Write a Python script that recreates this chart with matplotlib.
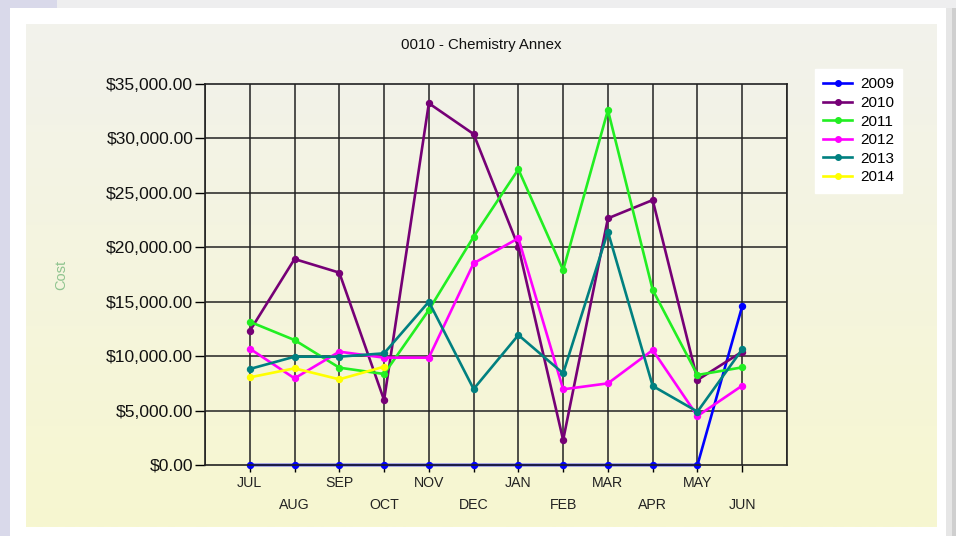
import numpy as np
import matplotlib.pyplot as plt
from matplotlib.patches import Rectangle

plt.rcParams['font.family'] = ['Liberation Sans', 'DejaVu Sans']

months = ["JUL", "AUG", "SEP", "OCT", "NOV", "DEC", "JAN", "FEB", "MAR", "APR", "MAY", "JUN"]
years = ["2009", "2010", "2011", "2012", "2013", "2014"]
colors = ["#0000ff", "#760076", "#22ee22", "#ff00ff", "#008080", "#ffff00"]

cost_2009 = [0, 0, 0, 0, 0, 0, 0, 0, 0, 0, 0, 14600]
cost_2010 = [12310, 18920, 17670, 5970, 33230, 30400, 20050, 2300, 22660, 24340, 7810, 10410]
cost_2011 = [13160, 11480, 8940, 8360, 14240, 20970, 27160, 17900, 32600, 16080, 8270, 8970]
cost_2012 = [10690, 7960, 10410, 9860, 9860, 18530, 20830, 6950, 7500, 10560, 4500, 7290]
cost_2013 = [8820, 9950, 9950, 10260, 15000, 6980, 11940, 8420, 21430, 7260, 4900, 10630]
cost_2014 = [8050, 8880, 7870, 9030]

series = [cost_2009, cost_2010, cost_2011, cost_2012, cost_2013, cost_2014]

W, H = 956, 536
fig = plt.figure(figsize=(W / 100, H / 100), dpi=100)
fig.patch.set_facecolor("white")


def fig_rect(x0, y0, x1, y1, color, z=-10):
    # pixel coords, origin at top-left
    r = Rectangle((x0 / W, 1 - y1 / H), (x1 - x0) / W, (y1 - y0) / H,
                  transform=fig.transFigure, facecolor=color, edgecolor="none", zorder=z)
    fig.add_artist(r)


# window chrome around the chart
fig_rect(0, 0, W, 8, "#eeeeef")
fig_rect(0, 0, 57, 8, "#d9d9ea")
fig_rect(0, 0, 10, H, "#d9d9ea")
fig_rect(946, 8, W, H, "#e6e6e6")
fig_rect(952, 8, W, H, "#cfcfcf")

# gradient chart area
bg = fig.add_axes([26 / W, 1 - 527 / H, 911 / W, 503 / H], zorder=-5)
top = np.array([242, 242, 236]) / 255
bot = np.array([247, 247, 208]) / 255
t = np.linspace(0, 1, 256)[:, None]
grad = (top * (1 - t) + bot * t)[:, None, :]
bg.imshow(grad, aspect="auto", extent=[0, 1, 0, 1])
bg.axis("off")

ax = fig.add_axes([205 / W, 1 - 465 / H, 582 / W, 381 / H])
ax.patch.set_alpha(0)

x = np.arange(len(months))
for yr, vals, c in zip(years, series, colors):
    ax.plot(x[:len(vals)], vals, color=c, lw=1.9, marker="o", ms=4.3,
            label=yr, clip_on=False, zorder=3)

ax.set_xlim(-1, 12)
ax.set_ylim(0, 35000)
ax.set_yticks(np.arange(0, 35001, 5000))
ax.set_yticklabels([f"${v:,.2f}" for v in np.arange(0, 35001, 5000)], fontsize=12.6)

ax.set_xticks(x[::2], months[::2])
ax.set_xticks(x[1::2], months[1::2], minor=True)
ax.tick_params(axis="x", which="both", length=5, width=1, color="black",
               labelsize=10.2, pad=3, labelcolor="#222222")
ax.tick_params(axis="x", which="minor", pad=19)
ax.tick_params(axis="y", length=7, width=1, pad=1.5, labelcolor="#111111")

# grid lines at every category and at the minus-one slot edge
for xv in range(-1, 13):
    ax.axvline(xv, color="#222222", lw=1.1, zorder=1)
for yv in range(5000, 35000, 5000):
    ax.axhline(yv, color="#222222", lw=1.1, zorder=1)
for sp in ax.spines.values():
    sp.set_color("#222222")
    sp.set_linewidth(1.2)
ax.spines["bottom"].set_zorder(4)

ax.set_ylabel("Cost", color="#8fc48f", fontsize=10.5)
ax.yaxis.set_label_coords(-0.235, 0.5)

fig.text(481.5 / W, 1 - 45 / H, "0010 - Chemistry Annex", ha="center", va="center",
         fontsize=10.8, color="#111111")

leg = ax.legend(loc="upper left", bbox_to_anchor=(815 / W, 1 - 69 / H),
                bbox_transform=fig.transFigure, fontsize=11, frameon=True,
                fancybox=False, framealpha=1, edgecolor="white", borderaxespad=0,
                handlelength=1.9, labelspacing=0.3, numpoints=1,
                borderpad=0.55, handletextpad=0.5)
leg.get_frame().set_facecolor("white")
for h in leg.get_lines():
    h.set_markersize(4)

fig.savefig("out.png", dpi=100)
